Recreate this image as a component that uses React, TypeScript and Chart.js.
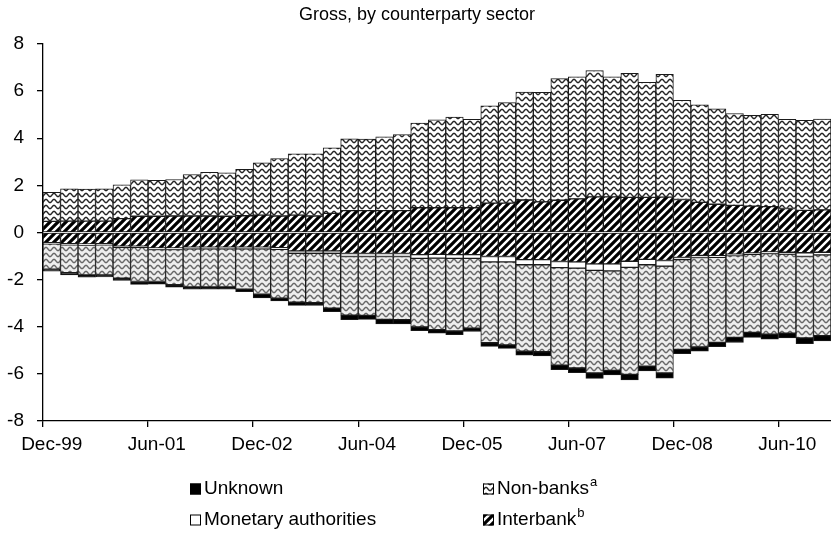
import React, { useEffect, useRef } from "react";
import { Chart, registerables } from "chart.js";

Chart.register(...registerables);

const TITLE = "Gross, by counterparty sector";

const categories = [
  "Dec-99", "Mar-00", "Jun-00", "Sep-00", "Dec-00", "Mar-01", "Jun-01", "Sep-01", "Dec-01",
  "Mar-02", "Jun-02", "Sep-02", "Dec-02", "Mar-03", "Jun-03", "Sep-03", "Dec-03",
  "Mar-04", "Jun-04", "Sep-04", "Dec-04", "Mar-05", "Jun-05", "Sep-05", "Dec-05",
  "Mar-06", "Jun-06", "Sep-06", "Dec-06", "Mar-07", "Jun-07", "Sep-07", "Dec-07",
  "Mar-08", "Jun-08", "Sep-08", "Dec-08", "Mar-09", "Jun-09", "Sep-09", "Dec-09",
  "Mar-10", "Jun-10", "Sep-10", "Dec-10",
];

// Positive side (claims)
const interbankAssets = [
  0.47, 0.48, 0.48, 0.48, 0.59, 0.69, 0.69, 0.70, 0.70, 0.70, 0.69, 0.71, 0.74, 0.70, 0.74,
  0.70, 0.81, 0.93, 0.93, 0.93, 0.93, 1.05, 1.05, 1.05, 1.05, 1.25, 1.25, 1.38, 1.30, 1.37,
  1.43, 1.51, 1.51, 1.49, 1.49, 1.50, 1.40, 1.28, 1.20, 1.15, 1.12, 1.10, 1.02, 0.94, 0.96,
];
const nonBankAssets = [
  1.23, 1.37, 1.36, 1.37, 1.43, 1.55, 1.52, 1.55, 1.76, 1.85, 1.84, 1.97, 2.22, 2.44, 2.60,
  2.64, 2.78, 3.05, 3.04, 3.13, 3.23, 3.59, 3.73, 3.85, 3.75, 4.13, 4.26, 4.58, 4.65, 5.16,
  5.18, 5.36, 5.10, 5.26, 4.88, 5.21, 4.21, 4.14, 4.05, 3.90, 3.85, 3.91, 3.78, 3.82, 3.85,
];

// Negative side (liabilities)
const interbankLiab = [
  -0.43, -0.47, -0.48, -0.47, -0.58, -0.58, -0.65, -0.65, -0.62, -0.62, -0.62, -0.62, -0.62, -0.64, -0.78,
  -0.78, -0.78, -0.89, -0.89, -0.89, -0.89, -0.94, -0.93, -0.94, -0.94, -1.02, -1.02, -1.15, -1.15, -1.23,
  -1.25, -1.33, -1.33, -1.22, -1.14, -1.19, -1.06, -0.97, -0.98, -0.92, -0.87, -0.82, -0.84, -0.86, -0.84,
];
const monetaryLiab = [
  -0.05, -0.05, -0.05, -0.05, -0.05, -0.05, -0.07, -0.07, -0.07, -0.07, -0.07, -0.07, -0.07, -0.07, -0.10,
  -0.10, -0.10, -0.13, -0.13, -0.13, -0.13, -0.16, -0.16, -0.16, -0.16, -0.23, -0.23, -0.22, -0.22, -0.26,
  -0.26, -0.28, -0.30, -0.26, -0.23, -0.24, -0.09, -0.09, -0.07, -0.06, -0.06, -0.07, -0.08, -0.16, -0.11,
];
const nonBankLiab = [
  -1.08, -1.19, -1.27, -1.28, -1.31, -1.45, -1.36, -1.49, -1.62, -1.62, -1.62, -1.72, -1.93, -2.08, -2.08,
  -2.10, -2.33, -2.49, -2.50, -2.67, -2.68, -2.91, -3.03, -3.08, -2.96, -3.43, -3.52, -3.67, -3.69, -4.14,
  -4.24, -4.35, -4.22, -4.54, -4.30, -4.53, -3.81, -3.80, -3.61, -3.47, -3.31, -3.43, -3.35, -3.45, -3.43,
];
const unknownLiab = [
  -0.08, -0.09, -0.10, -0.09, -0.09, -0.12, -0.11, -0.11, -0.10, -0.10, -0.10, -0.10, -0.16, -0.11, -0.13,
  -0.12, -0.15, -0.19, -0.17, -0.19, -0.18, -0.16, -0.15, -0.16, -0.14, -0.15, -0.15, -0.17, -0.18, -0.19,
  -0.20, -0.23, -0.19, -0.24, -0.20, -0.22, -0.18, -0.18, -0.19, -0.22, -0.21, -0.21, -0.20, -0.25, -0.22,
];

const yMin = -8;
const yMax = 8;
const yStep = 2;
const labelEvery = 6;

const FONT = '"Liberation Sans", Arial, sans-serif';

function makeWave(bg: string, fg: string, lw: number): CanvasPattern | string {
  const c = document.createElement("canvas");
  const w = 8;
  const h = 6;
  c.width = w;
  c.height = h;
  const g = c.getContext("2d");
  if (!g) return bg;
  g.fillStyle = bg;
  g.fillRect(0, 0, w, h);
  g.strokeStyle = fg;
  g.lineWidth = lw;
  g.beginPath();
  for (let x = -1; x <= w + 1; x += 0.5) {
    const y = h / 2 + 1.6 * Math.sin((x / w) * 2 * Math.PI);
    if (x === -1) g.moveTo(x, y);
    else g.lineTo(x, y);
  }
  g.stroke();
  return g.createPattern(c, "repeat") || bg;
}

function makeStripe(): CanvasPattern | string {
  const c = document.createElement("canvas");
  const n = 8;
  c.width = n;
  c.height = n;
  const g = c.getContext("2d");
  if (!g) return "#000";
  g.fillStyle = "#fff";
  g.fillRect(0, 0, n, n);
  g.strokeStyle = "#000";
  g.lineWidth = 3.2;
  g.beginPath();
  g.moveTo(-2, 2);
  g.lineTo(2, -2);
  g.moveTo(-1, n + 1);
  g.lineTo(n + 1, -1);
  g.moveTo(n - 2, n + 2);
  g.lineTo(n + 2, n - 2);
  g.stroke();
  return g.createPattern(c, "repeat") || "#000";
}

export default function App() {
  const ref = useRef<HTMLCanvasElement | null>(null);

  useEffect(() => {
    document.body.style.margin = "0";
    const canvas = ref.current;
    if (!canvas) return;

    const waveTop = makeWave("#ffffff", "#222222", 1.4);
    const waveBottom = makeWave("#eeeeee", "#666666", 1.4);
    const stripe = makeStripe();

    const legendItems = [
      { label: "Unknown", sup: "", fill: "#000000" as any, x: 190, y: 489 },
      { label: "Non-banks", sup: "a", fill: waveTop as any, x: 483, y: 489 },
      { label: "Monetary authorities", sup: "", fill: "#ffffff" as any, x: 190, y: 520 },
      { label: "Interbank", sup: "b", fill: stripe as any, x: 483, y: 520 },
    ];

    const overlay = {
      id: "overlay",
      afterDraw(chart: any) {
        const ctx = chart.ctx as CanvasRenderingContext2D;
        ctx.save();
        ctx.fillStyle = "#000";
        ctx.font = `18px ${FONT}`;
        ctx.textAlign = "center";
        ctx.textBaseline = "middle";
        ctx.fillText(TITLE, 417, 15);

        for (const it of legendItems) {
          const s = 11;
          ctx.fillStyle = it.fill;
          ctx.fillRect(it.x, it.y - s / 2, s, s);
          ctx.strokeStyle = "#000";
          ctx.lineWidth = 1;
          ctx.strokeRect(it.x + 0.5, it.y - s / 2 + 0.5, s - 1, s - 1);
          ctx.fillStyle = "#000";
          ctx.font = `19px ${FONT}`;
          ctx.textAlign = "left";
          ctx.textBaseline = "middle";
          const tx = it.x + s + 3;
          ctx.fillText(it.label, tx, it.y);
          if (it.sup) {
            const w = ctx.measureText(it.label).width;
            ctx.font = `13px ${FONT}`;
            ctx.fillText(it.sup, tx + w + 1, it.y - 7);
          }
        }
        ctx.restore();
      },
    };

    const common = {
      borderColor: "#1a1a1a",
      borderWidth: 1,
      borderSkipped: false as const,
      barPercentage: 1,
      categoryPercentage: 1,
      stack: "s",
    };

    const chart = new Chart(canvas, {
      type: "bar",
      data: {
        labels: categories,
        datasets: [
          { label: "Interbank", data: interbankAssets, backgroundColor: stripe as any, ...common },
          { label: "Interbank liabilities", data: interbankLiab, backgroundColor: stripe as any, ...common },
          { label: "Monetary authorities", data: monetaryLiab, backgroundColor: "#ffffff", ...common },
          { label: "Non-banks", data: nonBankAssets, backgroundColor: waveTop as any, ...common },
          { label: "Non-banks liabilities", data: nonBankLiab, backgroundColor: waveBottom as any, ...common },
          { label: "Unknown", data: unknownLiab, backgroundColor: "#000000", ...common },
        ],
      },
      options: {
        responsive: false,
        animation: false,
        devicePixelRatio: 1,
        layout: { padding: { top: 44, bottom: 79, left: 0, right: 0 } },
        plugins: {
          legend: { display: false },
          tooltip: { enabled: false },
          title: { display: false },
        },
        scales: {
          x: {
            stacked: true,
            offset: true,
            afterFit: (scale: any) => {
              scale.height = 34;
            },
            border: { display: true, color: "#000", width: 1.3 },
            grid: {
              offset: true,
              drawOnChartArea: false,
              drawTicks: true,
              tickLength: 6,
              lineWidth: 1.3,
              tickColor: (ctx: any) => (ctx.index % labelEvery === 0 ? "#000" : "rgba(0,0,0,0)"),
            },
            ticks: {
              autoSkip: false,
              maxRotation: 0,
              minRotation: 0,
              padding: 6,
              color: "#000",
              font: { family: FONT, size: 19 },
              callback: (_v: any, i: number) => (i % labelEvery === 0 ? categories[i] : ""),
            },
          },
          y: {
            stacked: true,
            min: yMin,
            max: yMax,
            afterFit: (scale: any) => {
              scale.width = 43;
            },
            border: { display: true, color: "#000", width: 1.3 },
            grid: {
              drawOnChartArea: false,
              drawTicks: true,
              tickLength: 6,
              tickColor: "#000",
              lineWidth: 1.3,
            },
            ticks: {
              stepSize: yStep,
              padding: 13,
              color: "#000",
              font: { family: FONT, size: 19 },
            },
          },
        },
      },
      plugins: [overlay],
    });

    return () => chart.destroy();
  }, []);

  return (
    <div style={{ position: "absolute", left: 0, top: 0, width: 831, height: 534, background: "#fff" }}>
      <canvas ref={ref} width={831} height={534} style={{ width: 831, height: 534, display: "block" }} />
    </div>
  );
}
